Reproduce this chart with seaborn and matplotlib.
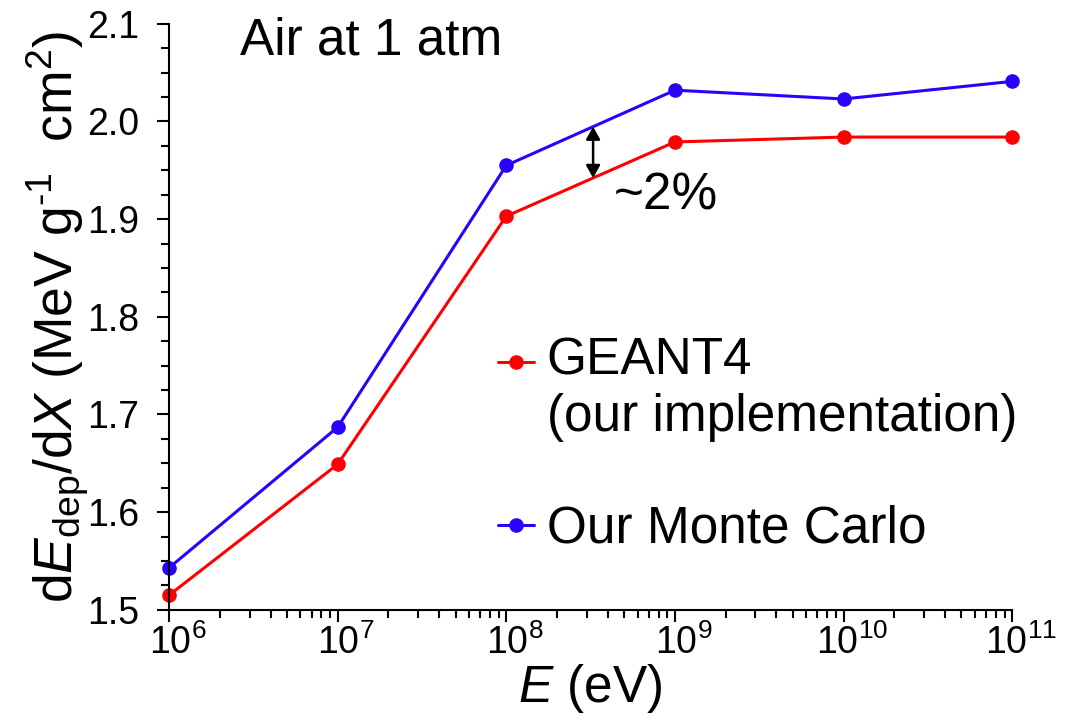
import numpy as np
import pandas as pd
import matplotlib
matplotlib.use("Agg")
import matplotlib.pyplot as plt
import matplotlib.transforms as mtransforms
from matplotlib.ticker import FixedLocator, MultipleLocator, FormatStrFormatter, LogLocator
from matplotlib.legend_handler import HandlerLine2D
import seaborn as sns

# Primary particle energy (eV) and deposited energy per unit depth
energy_ev = [1e6, 1e7, 1e8, 1e9, 1e10, 1e11]
geant4_dedx = [1.515, 1.649, 1.903, 1.979, 1.984, 1.984]
monte_carlo_dedx = [1.543, 1.687, 1.955, 2.032, 2.023, 2.041]

series_names = ["GEANT4", "Our Monte Carlo"]
legend_labels = ["GEANT4\n(our implementation)", "Our Monte Carlo"]
series_colors = ["#ff0000", "#2a00ff"]

y_ticks = [1.5, 1.6, 1.7, 1.8, 1.9, 2.0, 2.1]

df = pd.DataFrame({
    "E": energy_ev * 2,
    "dEdX": geant4_dedx + monte_carlo_dedx,
    "source": [series_names[0]] * len(energy_ev) + [series_names[1]] * len(energy_ev),
})

sns.set_style("ticks")
plt.rcParams["font.family"] = ["Liberation Sans", "DejaVu Sans"]
plt.rcParams["mathtext.fontset"] = "custom"
plt.rcParams["mathtext.rm"] = "Liberation Sans"
plt.rcParams["mathtext.it"] = "Liberation Sans:italic"
plt.rcParams["mathtext.bf"] = "Liberation Sans:bold"
plt.rcParams["axes.linewidth"] = 1.5
for key in ["text.color", "axes.labelcolor", "axes.edgecolor", "xtick.color", "ytick.color"]:
    plt.rcParams[key] = "black"

BIG = 37
TICK = 27

fig = plt.figure(figsize=(10.7, 7.2), dpi=100)
ax = fig.add_axes([0.158, 0.153, 0.788, 0.814])

sns.lineplot(
    data=df, x="E", y="dEdX", hue="source", hue_order=series_names,
    palette=dict(zip(series_names, series_colors)),
    marker="o", markersize=10.5, markeredgewidth=0, linewidth=2.2,
    legend=False, ax=ax, clip_on=False,
)

ax.set_xscale("log")
ax.set_xlim(1e6, 1e11)
ax.set_ylim(1.5, 2.1)
ax.xaxis.set_major_locator(LogLocator(base=10, numticks=20))
ax.xaxis.set_minor_locator(LogLocator(base=10, subs=np.arange(2, 10), numticks=20))
ax.yaxis.set_major_locator(FixedLocator(y_ticks))
ax.yaxis.set_minor_locator(MultipleLocator(0.025))
ax.yaxis.set_major_formatter(FormatStrFormatter("%.1f"))

ax.tick_params(axis="both", which="major", direction="out", length=8.5, width=1.5,
               labelsize=TICK, colors="black")
ax.tick_params(axis="both", which="minor", direction="out", length=5.5, width=1.5,
               colors="black")
ax.tick_params(axis="y", which="major", pad=13)
ax.tick_params(axis="x", which="major", pad=2)

# nudge decade labels so the "10" sits under its tick
shift = mtransforms.ScaledTranslation(6 / 72, 0, fig.dpi_scale_trans)
for lbl in ax.get_xticklabels():
    lbl.set_transform(lbl.get_transform() + shift)

sns.despine(ax=ax)

ax.set_xlabel(r"$E$ (eV)", fontsize=BIG, labelpad=0)
ax.set_ylabel("d$E_{\\mathrm{dep}}$/d$X$ (MeV g$^{\u2010\\mathrm{1}}$  cm$^{2}$)",
              fontsize=38.5, labelpad=-3)

ax.text(0.084, 0.947, "Air at 1 atm", transform=ax.transAxes, fontsize=BIG,
        ha="left", va="baseline")

# double arrow marking the gap between the two curves
x_arrow = 3.27e8
logx = np.log10(energy_ev)
y_top = np.interp(np.log10(x_arrow), logx, monte_carlo_dedx)
y_bot = np.interp(np.log10(x_arrow), logx, geant4_dedx)
ax.annotate("", xy=(x_arrow, y_top), xytext=(x_arrow, y_bot),
            arrowprops=dict(arrowstyle="<|-|>,head_length=0.5,head_width=0.28",
                            color="black", lw=1.8, mutation_scale=15,
                            shrinkA=0, shrinkB=0))
ax.text(0.527, 0.6826, "~2%", transform=ax.transAxes, fontsize=BIG,
        ha="left", va="baseline")


class RaisedLineHandler(HandlerLine2D):
    """Line handler that lifts the sample line onto the first label row."""

    def __init__(self, dy, **kw):
        super().__init__(**kw)
        self.dy = dy

    def create_artists(self, legend, orig_handle, xdescent, ydescent, width,
                       height, fontsize, trans):
        artists = super().create_artists(legend, orig_handle, xdescent, ydescent,
                                         width, height, fontsize, trans)
        for a in artists:
            a.set_ydata(np.asarray(a.get_ydata(), dtype=float) + self.dy * fontsize)
        return artists


handles = ax.get_lines()[:2]
leg = ax.legend(
    handles=handles, labels=legend_labels,
    handler_map={handles[0]: RaisedLineHandler(0.55, numpoints=1)},
    loc="upper left", bbox_to_anchor=(0.39, 0.467), frameon=False,
    fontsize=BIG, handlelength=0.7, handletextpad=0.25, labelspacing=1.23,
    borderaxespad=0, borderpad=0, numpoints=1,
)

fig.savefig("out.png", dpi=100)
